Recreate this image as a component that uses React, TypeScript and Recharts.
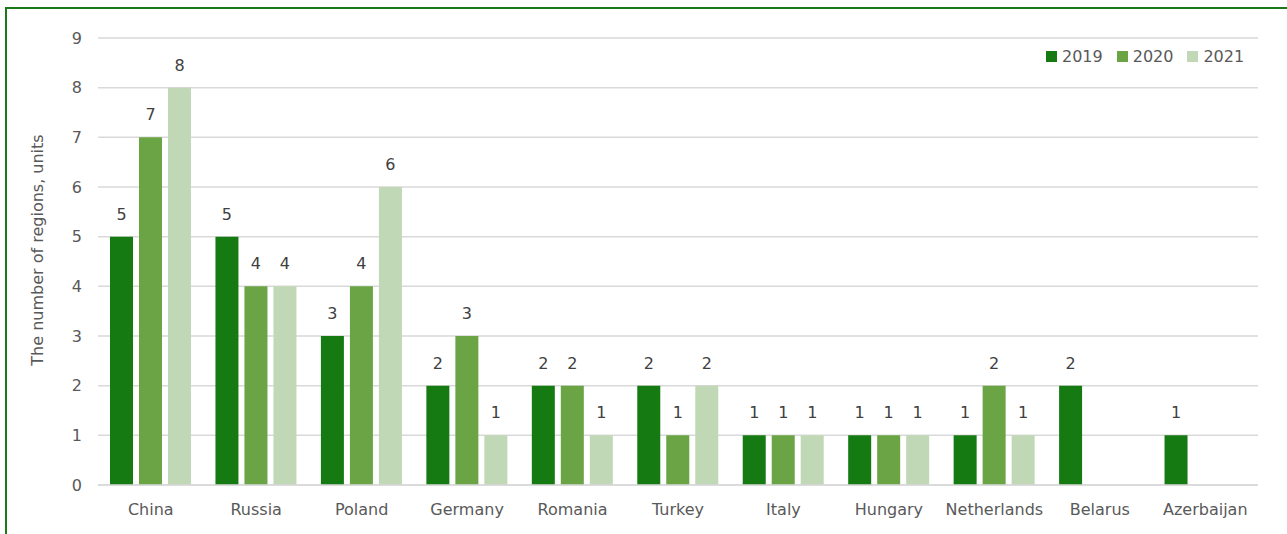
import React from "react"
import {
  BarChart,
  Bar,
  XAxis,
  YAxis,
  CartesianGrid,
  Legend,
  LabelList,
} from "recharts"

const countries = [
  "China",
  "Russia",
  "Poland",
  "Germany",
  "Romania",
  "Turkey",
  "Italy",
  "Hungary",
  "Netherlands",
  "Belarus",
  "Azerbaijan",
]
const y2019 = [5, 5, 3, 2, 2, 2, 1, 1, 1, 2, 1]
const y2020 = [7, 4, 4, 3, 2, 1, 1, 1, 2, null, null]
const y2021 = [8, 4, 6, 1, 1, 2, 1, 1, 1, null, null]
const yTicks = [0, 1, 2, 3, 4, 5, 6, 7, 8, 9]

const data = countries.map((c, i) => ({
  country: c,
  y2019: y2019[i],
  y2020: y2020[i],
  y2021: y2021[i],
}))

const series = [
  { key: "y2019", name: "2019", color: "#157a12" },
  { key: "y2020", name: "2020", color: "#6aa444" },
  { key: "y2021", name: "2021", color: "#c0d8b5" },
]

const FONT = "'DejaVu Sans', Verdana, sans-serif"

const renderLegend = () => (
  <div style={{ display: "flex", fontFamily: FONT, fontSize: 16, color: "#595959" }}>
    {series.map((s) => (
      <div key={s.key} style={{ display: "flex", alignItems: "center", marginRight: 14 }}>
        <span style={{ width: 11, height: 11, background: s.color, marginRight: 5, display: "inline-block" }} />
        <span>{s.name}</span>
      </div>
    ))}
  </div>
)

export default function App() {
  return (
    <div style={{ position: "fixed", left: 0, top: 0, width: 1287, height: 534, background: "#fff", overflow: "hidden" }}>
      <div
        style={{
          position: "absolute",
          left: 5,
          top: 7,
          width: 1400,
          height: 700,
          border: "2px solid #1a7a1a",
        }}
      />
      <div style={{ position: "absolute", left: 0, top: 0 }}>
        <BarChart
          width={1287}
          height={534}
          data={data}
          margin={{ top: 38, right: 29, bottom: 0, left: 0 }}
          barCategoryGap={12}
          barGap={6}
        >
          <CartesianGrid vertical={false} stroke="#d9d9d9" strokeWidth={1.5} />
          <XAxis
            dataKey="country"
            height={49}
            axisLine={{ stroke: "#d9d9d9", strokeWidth: 1.5 }}
            tickLine={false}
            tickSize={0}
            tickMargin={19}
            tick={{ fill: "#595959", fontSize: 16, fontFamily: FONT }}
            interval={0}
          />
          <YAxis
            width={98}
            domain={[0, 9]}
            ticks={yTicks}
            axisLine={false}
            tickLine={false}
            tickSize={0}
            tickMargin={16}
            tick={{ fill: "#595959", fontSize: 16, fontFamily: FONT }}
            label={{
              content: () => (
                <text
                  x={37}
                  y={250}
                  transform="rotate(-90 37 250)"
                  textAnchor="middle"
                  dominantBaseline="central"
                  fill="#595959"
                  fontSize={16}
                  fontFamily={FONT}
                >
                  The number of regions, units
                </text>
              ),
            }}
          />
          <Legend
            layout="horizontal"
            verticalAlign="middle"
            align="center"
            content={renderLegend}
            wrapperStyle={{ position: "absolute", left: 1046, top: 47, width: 240 }}
          />
          {series.map((s) => (
            <Bar
              key={s.key}
              dataKey={s.key}
              name={s.name}
              fill={s.color}
              isAnimationActive={false}
            >
              <LabelList
                dataKey={s.key}
                position="top"
                offset={17}
                fill="#404040"
                fontSize={16}
                fontFamily={FONT}
                formatter={(v: any) => (v == null ? "" : v)}
              />
            </Bar>
          ))}
        </BarChart>
      </div>
    </div>
  )
}
